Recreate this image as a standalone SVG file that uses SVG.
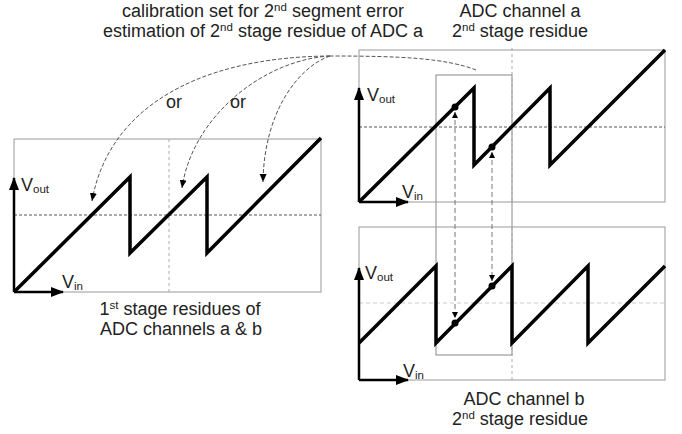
<svg xmlns="http://www.w3.org/2000/svg" width="682" height="434" viewBox="0 0 682 434">
<style>
text{font-family:"Liberation Sans",Arial,sans-serif;font-size:18px;fill:#222}
.c{text-anchor:middle}
.sup{font-size:11.5px}
.sub{font-size:11.5px}
.frame{fill:none;stroke:#999;stroke-width:1}
.vdash{stroke:#aaa;stroke-width:1;stroke-dasharray:3 3;fill:none}
.hdash{stroke:#555;stroke-width:1;stroke-dasharray:3 2;fill:none}
.hlight{stroke:#ccc;stroke-width:1;stroke-dasharray:4 3;fill:none}
.saw{fill:none;stroke:#000;stroke-width:3.5;stroke-linejoin:miter;stroke-miterlimit:10}
.axis{fill:none;stroke:#000;stroke-width:2.5}
.conn{fill:none;stroke:#555;stroke-width:1;stroke-dasharray:4 2}
.link{fill:none;stroke:#777;stroke-width:1;stroke-dasharray:5 3}
.win{fill:none;stroke:#888;stroke-width:1}
</style>
<defs>
<marker id="ax" markerUnits="userSpaceOnUse" markerWidth="14" markerHeight="10" refX="12" refY="5" orient="auto">
<path d="M0,0 L13,5 L0,10 z" fill="#000"/>
</marker>
<marker id="sm" markerUnits="userSpaceOnUse" markerWidth="9" markerHeight="8" refX="8" refY="3.5" orient="auto">
<path d="M0,0 L8,3.5 L0,7 z" fill="#000"/>
</marker>
<marker id="tiny" markerUnits="userSpaceOnUse" markerWidth="8" markerHeight="7" refX="6" refY="3" orient="auto-start-reverse">
<path d="M0,0 L6,3 L0,6 z" fill="#000"/>
</marker>
</defs>

<g id="header-left">
<text class="c" x="263" y="17">calibration set for 2<tspan class="sup" dy="-6">nd</tspan><tspan dy="6"> segment error</tspan></text>
<text class="c" x="263" y="37">estimation of 2<tspan class="sup" dy="-6">nd</tspan><tspan dy="6"> stage residue of ADC a</tspan></text>
</g>
<g id="header-right">
<text class="c" x="520" y="17">ADC channel a</text>
<text class="c" x="520" y="37">2<tspan class="sup" dy="-6">nd</tspan><tspan dy="6"> stage residue</tspan></text>
</g>

<g id="calibration-window">
<rect class="win" x="436" y="75" width="76" height="280"/>
</g>

<g id="panel-first-stage">
<rect class="frame" x="14" y="139" width="307" height="153"/>
<line class="vdash" x1="169" y1="139" x2="169" y2="292"/>
<line class="hdash" x1="14" y1="215" x2="321" y2="215"/>
<polyline class="saw" points="14,292 130,177 130,253 207,177 207,253 321,138"/>
<path class="axis" d="M14,292 V178" marker-end="url(#ax)"/>
<path class="axis" d="M14,292 H63" marker-end="url(#ax)"/>
<text x="21" y="191">V<tspan class="sub" dy="2">out</tspan></text>
<text x="62" y="288">V<tspan class="sub" dy="2">in</tspan></text>
<text class="c" x="180" y="315">1<tspan class="sup" dy="-6">st</tspan><tspan dy="6"> stage residues of</tspan></text>
<text class="c" x="181" y="335">ADC channels a &amp; b</text>
</g>

<g id="panel-channel-a">
<rect class="frame" x="359" y="50" width="306" height="152"/>
<line class="vdash" x1="512" y1="48" x2="512" y2="202"/>
<line class="hdash" x1="359" y1="127" x2="665" y2="127"/>
<polyline class="saw" points="359,202 474,88 474,165 550,88 550,165 665,50"/>
<path class="axis" d="M359,202 V88" marker-end="url(#ax)"/>
<path class="axis" d="M359,202 H408" marker-end="url(#ax)"/>
<text x="367" y="101">V<tspan class="sub" dy="2">out</tspan></text>
<text x="402" y="198">V<tspan class="sub" dy="2">in</tspan></text>
</g>

<g id="panel-channel-b">
<rect class="frame" x="359" y="227" width="306" height="153"/>
<line class="vdash" x1="512" y1="227" x2="512" y2="380"/>
<line class="hlight" x1="359" y1="303" x2="665" y2="303"/>
<polyline class="saw" points="359,343 436,266 436,343 512,266 512,343 588,266 588,343 665,266"/>
<path class="axis" d="M359,380 V268" marker-end="url(#ax)"/>
<path class="axis" d="M359,380 H408" marker-end="url(#ax)"/>
<text x="365" y="279">V<tspan class="sub" dy="2">out</tspan></text>
<text x="403" y="377">V<tspan class="sub" dy="2">in</tspan></text>
<text class="c" x="524" y="405">ADC channel b</text>
<text class="c" x="520" y="425">2<tspan class="sup" dy="-6">nd</tspan><tspan dy="6"> stage residue</tspan></text>
</g>

<g id="sample-points">
<circle cx="455" cy="107" r="3.5" fill="#000"/>
<circle cx="492" cy="147" r="3.5" fill="#000"/>
<circle cx="455" cy="323" r="3.5" fill="#000"/>
<circle cx="492" cy="286" r="3.5" fill="#000"/>
</g>

<g id="connectors">
<path class="conn" d="M476,70 C445,58 400,56 330,56"/>
<path class="conn" d="M330,56 C195,57 108,110 92,201" marker-end="url(#sm)"/>
<path class="conn" d="M330,56 C262,60 192,118 182,188" marker-end="url(#sm)"/>
<path class="conn" d="M330,56 C300,66 264,110 263,182" marker-end="url(#sm)"/>
<path class="link" d="M455,112 V318" marker-start="url(#tiny)" marker-end="url(#tiny)"/>
<path class="link" d="M492,152 V281" marker-start="url(#tiny)" marker-end="url(#tiny)"/>
<text x="166" y="108">or</text>
<text x="230" y="108">or</text>
</g>
</svg>
